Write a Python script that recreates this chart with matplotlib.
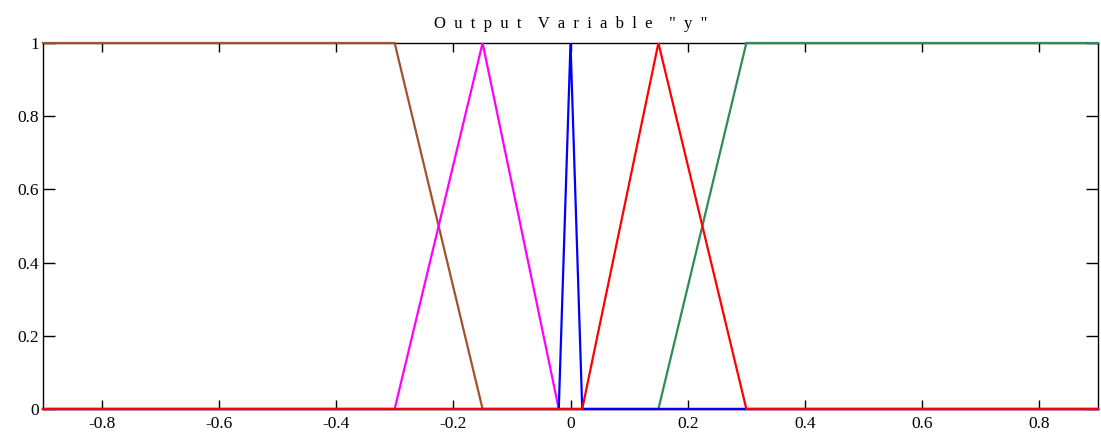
import matplotlib
matplotlib.use("Agg")
import matplotlib.pyplot as plt

# Membership functions of output variable "y": breakpoints and memberships
mf_names = ["NB", "NS", "Z", "PS", "PB"]
mf_x = [
    [-0.9, -0.3, -0.15, 0.9],          # trapezoid, open to the left
    [-0.9, -0.3, -0.15, -0.02, 0.9],   # triangle
    [-0.9, -0.02, 0.0, 0.02, 0.9],     # narrow triangle around zero
    [-0.9, 0.02, 0.15, 0.3, 0.9],      # triangle
    [-0.9, 0.15, 0.3, 0.9],            # trapezoid, open to the right
]
mf_y = [
    [1, 1, 0, 0],
    [0, 0, 1, 0, 0],
    [0, 0, 1, 0, 0],
    [0, 0, 1, 0, 0],
    [0, 0, 1, 1],
]
mf_colors = ["#A0522D", "#FF00FF", "#0000FF", "#FF0000", "#2E8B57"]
draw_order = [4, 0, 1, 2, 3]

x_ticks = [-0.8, -0.6, -0.4, -0.2, 0, 0.2, 0.4, 0.6, 0.8]
x_tick_labels = ["-0.8", "-0.6", "-0.4", "-0.2", "0", "0.2", "0.4", "0.6", "0.8"]
y_ticks = [0, 0.2, 0.4, 0.6, 0.8, 1]
y_tick_labels = ["0", "0.2", "0.4", "0.6", "0.8", "1"]
title = 'Output Variable "y"'

plt.rcParams["font.family"] = ["Liberation Serif", "DejaVu Serif"]

fig = plt.figure(figsize=(11.01, 4.38), dpi=100)
ax = fig.add_axes([43 / 1101, 29 / 438, 1055 / 1101, 366 / 438])

for i in draw_order:
    ax.plot(mf_x[i], mf_y[i], color=mf_colors[i], linewidth=1.6,
            solid_joinstyle="miter", clip_on=False, zorder=3)

ax.set_xlim(-0.9, 0.9)
ax.set_ylim(0, 1)
ax.set_xticks(x_ticks)
ax.set_xticklabels(x_tick_labels)
ax.set_yticks(y_ticks)
ax.set_yticklabels(y_tick_labels)
ax.tick_params(axis="x", direction="in", length=6.5, width=1.0, top=True,
               labelsize=12.5, pad=5)
ax.tick_params(axis="y", direction="in", length=8.5, width=1.0, right=True,
               labelsize=12.5, pad=3)
for side in ax.spines.values():
    side.set_linewidth(1.0)
    side.set_color("black")

# letter-spaced title
spaced_title = "    ".join("  ".join(word) for word in title.split(" "))
ax.set_title(spaced_title, fontsize=12, pad=11)

fig.savefig("out.png", dpi=100)
